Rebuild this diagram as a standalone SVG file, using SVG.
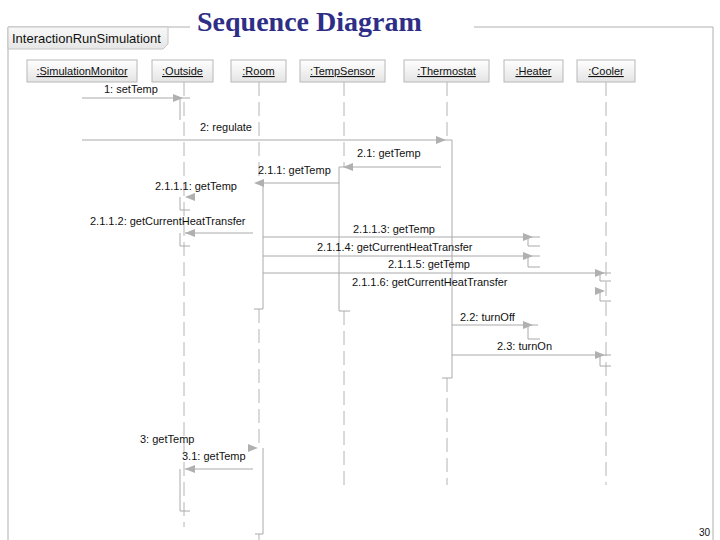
<svg xmlns="http://www.w3.org/2000/svg" xmlns:xlink="http://www.w3.org/1999/xlink" width="720" height="540" viewBox="0 0 720 540">
<style>
.frame{fill:none;stroke:#b0b0b0;stroke-width:1}
.obj{fill:url(#objGrad);stroke:#b8b8b8;stroke-width:1}
.objt{font-family:"Liberation Sans",Arial,sans-serif;font-size:11px;fill:#111;text-anchor:middle;text-decoration:underline}
.life{fill:none;stroke:#b4b4b4;stroke-width:1;stroke-dasharray:14 6}
.msg{fill:none;stroke:#aaaaaa;stroke-width:1}
.act{fill:none;stroke:#aaaaaa;stroke-width:1}
.lbl{font-family:"Liberation Sans",Arial,sans-serif;font-size:11px;fill:#111}
.ah{fill:#b0b0b0;stroke:none}
</style>
<defs>
<linearGradient id="objGrad" x1="0" y1="0" x2="0" y2="1">
<stop offset="0" stop-color="#ffffff"/>
<stop offset="1" stop-color="#e4e4e4"/>
</linearGradient>
<linearGradient id="lblGrad" x1="0" y1="0" x2="0" y2="1">
<stop offset="0" stop-color="#f8f8f8"/>
<stop offset="1" stop-color="#e6e6e6"/>
</linearGradient>
<polygon id="arrR" points="0,0 -10,-4 -10,4"/>
<polygon id="arrL" points="0,0 10,-4 10,4"/>
</defs>
<rect width="720" height="540" fill="#ffffff"/>

<g id="frame">
<path class="frame" d="M8 540 V27 H190 M474 27 H713 V540"/>
<polygon points="8,27 168,27 168,44 163,49 8,49" fill="url(#lblGrad)" stroke="#c4c4c4" stroke-width="1"/>
<text x="12" y="43" font-family="'Liberation Sans',Arial,sans-serif" font-size="13px" fill="#111">InteractionRunSimulationt</text>
</g>

<g id="title">
<text x="197" y="31" font-family="'Liberation Serif','Times New Roman',serif" font-weight="bold" font-size="28px" fill="#2e2e86">Sequence Diagram</text>
</g>

<g id="page-number">
<text x="710" y="536" font-family="'Liberation Sans',Arial,sans-serif" font-size="10px" fill="#111" text-anchor="end">30</text>
</g>

<g id="lifelines">
<path class="life" d="M184 82 V527"/>
<path class="life" d="M259 82 V183 M259 309 V448 M259 534 V540"/>
<path class="life" d="M344 82 V167 M344 311 V485"/>
<path class="life" d="M447 82 V140 M447 378 V485"/>
<path class="life" d="M606 82 V485"/>
</g>

<g id="node-simulationmonitor">
<rect class="obj" x="27" y="60" width="110" height="22"/>
<text class="objt" x="82" y="75">:SimulationMonitor</text>
</g>
<g id="node-outside">
<rect class="obj" x="152" y="60" width="61" height="22"/>
<text class="objt" x="182.5" y="75">:Outside</text>
</g>
<g id="node-room">
<rect class="obj" x="231" y="60" width="55" height="22"/>
<text class="objt" x="258.5" y="75">:Room</text>
</g>
<g id="node-tempsensor">
<rect class="obj" x="300" y="60" width="85" height="22"/>
<text class="objt" x="342.5" y="75">:TempSensor</text>
</g>
<g id="node-thermostat">
<rect class="obj" x="404" y="60" width="85" height="22"/>
<text class="objt" x="446.5" y="75">:Thermostat</text>
</g>
<g id="node-heater">
<rect class="obj" x="504" y="60" width="59" height="22"/>
<text class="objt" x="533.5" y="75">:Heater</text>
</g>
<g id="node-cooler">
<rect class="obj" x="577" y="60" width="58" height="22"/>
<text class="objt" x="606" y="75">:Cooler</text>
</g>

<g id="activations">
<path class="act" d="M180 98 V120"/>
<path class="act" d="M180 197 V210 H190"/>
<path class="act" d="M180 233 V246 H190"/>
<path class="act" d="M180 469 V511 H190"/>
<path class="act" d="M263 183 V309 H254"/>
<path class="act" d="M263 448 V534 H255"/>
<path class="act" d="M339 167 V311 H350"/>
<path class="act" d="M452 140 V378 H442"/>
<path class="act" d="M528 237 V246 H540"/>
<path class="act" d="M528 256 V267 H540"/>
<path class="act" d="M528 325 V339 H540"/>
<path class="act" d="M600 273 V281 H611"/>
<path class="act" d="M600 291 V301 H611"/>
<path class="act" d="M600 355 V366 H611"/>
</g>

<g id="connectors">
<path class="msg" d="M82 98 H190"/>
<use xlink:href="#arrR" class="ah" x="183" y="98"/>
<path class="msg" d="M82 140 H452"/>
<use xlink:href="#arrR" class="ah" x="446" y="140"/>
<path class="msg" d="M441 167 H339"/>
<use xlink:href="#arrL" class="ah" x="343" y="167"/>
<path class="msg" d="M339 183 H263"/>
<use xlink:href="#arrL" class="ah" x="254" y="183"/>
<use xlink:href="#arrL" class="ah" x="185" y="197"/>
<path class="msg" d="M253 233 H185"/>
<use xlink:href="#arrL" class="ah" x="185" y="233"/>
<path class="msg" d="M263 237 H540"/>
<use xlink:href="#arrR" class="ah" x="533" y="237"/>
<path class="msg" d="M263 256 H540"/>
<use xlink:href="#arrR" class="ah" x="533" y="256"/>
<path class="msg" d="M263 273 H611"/>
<use xlink:href="#arrR" class="ah" x="605" y="273"/>
<use xlink:href="#arrR" class="ah" x="605" y="291"/>
<path class="msg" d="M452 325 H538"/>
<use xlink:href="#arrR" class="ah" x="533" y="325"/>
<path class="msg" d="M452 355 H611"/>
<use xlink:href="#arrR" class="ah" x="605" y="355"/>
<use xlink:href="#arrR" class="ah" x="258" y="448"/>
<path class="msg" d="M253 469 H185"/>
<use xlink:href="#arrL" class="ah" x="185" y="469"/>
</g>

<g id="labels">
<text class="lbl" x="104" y="93">1: setTemp</text>
<text class="lbl" x="200" y="131">2: regulate</text>
<text class="lbl" x="357" y="157">2.1: getTemp</text>
<text class="lbl" x="258" y="174">2.1.1: getTemp</text>
<text class="lbl" x="155" y="190">2.1.1.1: getTemp</text>
<text class="lbl" x="90" y="225">2.1.1.2: getCurrentHeatTransfer</text>
<text class="lbl" x="353" y="233">2.1.1.3: getTemp</text>
<text class="lbl" x="317" y="251">2.1.1.4: getCurrentHeatTransfer</text>
<text class="lbl" x="388" y="268">2.1.1.5: getTemp</text>
<text class="lbl" x="352" y="286">2.1.1.6: getCurrentHeatTransfer</text>
<text class="lbl" x="460" y="321">2.2: turnOff</text>
<text class="lbl" x="497" y="350">2.3: turnOn</text>
<text class="lbl" x="140" y="443">3: getTemp</text>
<text class="lbl" x="182" y="460">3.1: getTemp</text>
</g>
</svg>
